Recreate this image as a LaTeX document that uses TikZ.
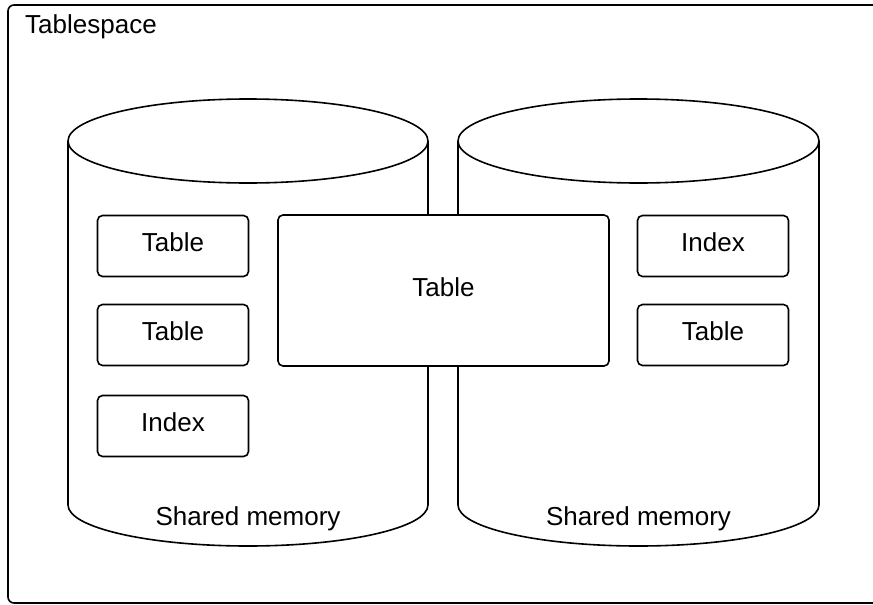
\documentclass[tikz,border=0pt]{standalone}
\usepackage{fontspec}
\setmainfont{Liberation Sans}
\usetikzlibrary{positioning}

\begin{document}
\begin{tikzpicture}[x=1pt,y=-1pt]
\tikzset{box/.style = {draw, line width=1.6pt, rounded corners=5pt, fill=white, inner sep=0pt, minimum width=151pt, minimum height=61pt, text height=19pt, text depth=8pt, font=\fontsize{26}{30}\selectfont}}
\tikzset{cyl/.style = {draw, line width=1.6pt}}
\tikzset{label/.style = {inner sep=0pt, font=\fontsize{26}{30}\selectfont}}
\clip (0,0) rectangle (873,605);
\useasboundingbox (0,0) rectangle (873,605);
% tablespace frame
\draw[line width=1.6pt, rounded corners=6pt] (8,5) rectangle (890,603);
\node[label, anchor=base west] (ts) at (25,34) {Tablespace};
% cylinders
\draw[cyl] (68,141) -- (68,505) arc[start angle=180, end angle=0, x radius=180, y radius=41] -- (428,141);
\draw[cyl] (248,141) ellipse[x radius=180, y radius=42];
\draw[cyl] (458,141) -- (458,505) arc[start angle=180, end angle=0, x radius=180.5, y radius=41] -- (819,141);
\draw[cyl] (638.5,141) ellipse[x radius=180.5, y radius=42];
\node[label, anchor=base] (mem1) at (248,525) {Shared memory};
\node[label, anchor=base] (mem2) at (638.5,525) {Shared memory};
% tables and indexes
\node[box] (t1) at (173,246) {Table};
\node[box] (t2) at (173,335) {Table};
\node[box] (i1) at (173,426) {Index};
\node[box, minimum width=331pt, minimum height=151pt] (tm) at (443.5,290.5) {Table};
\node[box] (i2) at (713,246) {Index};
\node[box] (t3) at (713,335) {Table};
\end{tikzpicture}
\end{document}
